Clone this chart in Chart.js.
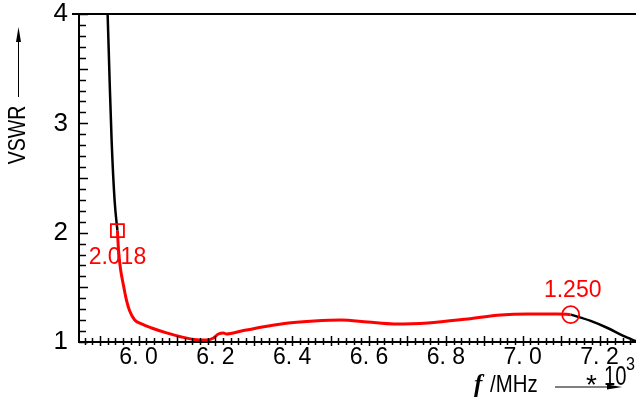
<!DOCTYPE html>
<html>
<head>
<meta charset="utf-8">
<script src="https://cdn.jsdelivr.net/npm/chart.js@4.4.1/dist/chart.umd.min.js"></script>
<style>
  html, body { margin: 0; padding: 0; background: #fff; }
</style>
</head>
<body>
<canvas id="vswrChart" width="636" height="403"></canvas>
<script>
// frequency in GHz (axis shows MHz * 10^3), VSWR
var freqLeft  = [5.9160, 5.9195, 5.9247, 5.9299, 5.9377, 5.9450];
var vswrLeft  = [4.30,   4.000,  3.394,  2.844,  2.294,  2.018];

var freqBand  = [5.945, 5.948, 5.953, 5.961, 5.969, 5.977, 5.990, 6.008, 6.034, 6.073, 6.112,
                 6.145, 6.177, 6.195, 6.208, 6.221, 6.229, 6.268, 6.338, 6.390, 6.457,
                 6.527, 6.597, 6.665, 6.753, 6.857, 6.943, 7.013, 7.091, 7.125];
var vswrBand  = [2.018, 1.835, 1.670, 1.514, 1.376, 1.284, 1.202, 1.165, 1.128, 1.083, 1.046,
                 1.023, 1.018, 1.037, 1.073, 1.083, 1.073, 1.101, 1.147, 1.174, 1.193,
                 1.202, 1.183, 1.165, 1.174, 1.211, 1.248, 1.257, 1.257, 1.250];

var freqRight = [7.125, 7.177, 7.221, 7.262, 7.300];
var vswrRight = [1.250, 1.193, 1.128, 1.055, 1.000];

var markerLow  = {x: 5.945, y: 2.018, text: "2.018"};
var markerHigh = {x: 7.125, y: 1.250, text: "1.250"};

var xTickValues = [6.0, 6.2, 6.4, 6.6, 6.8, 7.0, 7.2];
var xTickLabels = ["6. 0", "6. 2", "6. 4", "6. 6", "6. 8", "7. 0", "7. 2"];
var yTickValues = [1, 2, 3, 4];

function toPoints(xs, ys) {
  var pts = [];
  for (var i = 0; i < xs.length; i++) pts.push({x: xs[i], y: ys[i]});
  return pts;
}

var RED = "#ff0000";
var SANS = "'Liberation Sans', Arial, sans-serif";

// narrow text, the plot uses a condensed font
function narrowText(ctx, text, x, y, squeeze) {
  ctx.save();
  ctx.translate(x, y);
  ctx.scale(squeeze, 1);
  ctx.fillText(text, 0, 0);
  ctx.restore();
}

// inside ticks, top frame line, axis titles and marker values
var decorPlugin = {
  id: "decor",
  afterDraw: function(chart) {
    var ctx = chart.ctx;
    var xs = chart.scales.x, ys = chart.scales.y;
    var area = chart.chartArea;
    ctx.save();
    ctx.strokeStyle = "#000";
    ctx.lineWidth = 2;
    ctx.beginPath();
    ctx.moveTo(area.left - 7, area.top);
    ctx.lineTo(area.right, area.top);
    ctx.stroke();

    ctx.lineWidth = 1.5;
    // y minor ticks
    for (var i = 10; i <= 40; i++) {
      var py = Math.round(ys.getPixelForValue(i / 10)) + 0.5;
      var len = (i % 5 === 0) ? 9 : 7;
      ctx.beginPath();
      ctx.moveTo(area.left, py);
      ctx.lineTo(area.left + len, py);
      ctx.stroke();
    }
    // x minor ticks
    for (var k = 293; k <= 365; k++) {
      var v = k / 50;
      if (v < xs.min || v > xs.max) continue;
      var px = Math.round(xs.getPixelForValue(v)) + 0.5;
      var major = (k % 5 === 0);
      ctx.beginPath();
      ctx.moveTo(px, area.bottom - (major ? 6 : 4));
      ctx.lineTo(px, area.bottom + (major ? 4 : 3));
      ctx.stroke();
    }

    // marker values
    ctx.fillStyle = RED;
    ctx.font = "23px " + SANS;
    ctx.textAlign = "center";
    ctx.textBaseline = "middle";
    ctx.fillText(markerLow.text, xs.getPixelForValue(markerLow.x), ys.getPixelForValue(markerLow.y) + 27);
    ctx.fillText(markerHigh.text, xs.getPixelForValue(markerHigh.x) + 2, ys.getPixelForValue(markerHigh.y) - 24);

    // y title
    ctx.fillStyle = "#000";
    ctx.save();
    ctx.translate(19, 135);
    ctx.rotate(-Math.PI / 2);
    ctx.font = "23px " + SANS;
    ctx.textAlign = "center";
    ctx.textBaseline = "middle";
    narrowText(ctx, "VSWR", 0, 0, 0.85);
    ctx.restore();
    ctx.lineWidth = 1;
    ctx.beginPath();
    ctx.moveTo(18.5, 97);
    ctx.lineTo(18.5, 34);
    ctx.stroke();
    ctx.beginPath();
    ctx.moveTo(18.5, 27);
    ctx.lineTo(16, 42);
    ctx.lineTo(21, 42);
    ctx.closePath();
    ctx.fill();

    // x title
    ctx.textAlign = "left";
    ctx.textBaseline = "alphabetic";
    ctx.font = "italic bold 25px 'Liberation Serif', serif";
    ctx.fillText("f", 474, 392);
    ctx.font = "24px " + SANS;
    narrowText(ctx, "/MHz", 490, 392, 0.85);
    ctx.beginPath();
    ctx.moveTo(555, 387);
    ctx.lineTo(612, 387);
    ctx.stroke();
    ctx.beginPath();
    ctx.moveTo(622, 387);
    ctx.lineTo(607, 384.5);
    ctx.lineTo(607, 389.5);
    ctx.closePath();
    ctx.fill();
    ctx.font = "28px " + SANS;
    ctx.fillText("*", 586, 394);
    ctx.font = "27px " + SANS;
    narrowText(ctx, "10", 604, 385, 0.75);
    ctx.font = "19px " + SANS;
    narrowText(ctx, "3", 626, 370, 0.85);
    ctx.restore();
  }
};

function noOverhang(scale) {
  scale.paddingLeft = 0;
  scale.paddingRight = 0;
  scale.paddingTop = 0;
  scale.paddingBottom = 0;
}

var ctx = document.getElementById("vswrChart");
var vswrChart = new Chart(ctx, {
  type: "line",
  data: {
    datasets: [
      {
        data: toPoints(freqLeft, vswrLeft),
        borderColor: "#000", borderWidth: 2.5, pointRadius: 0,
        cubicInterpolationMode: "monotone", order: 3
      },
      {
        data: toPoints(freqBand, vswrBand),
        borderColor: RED, borderWidth: 3, pointRadius: 0,
        cubicInterpolationMode: "monotone", order: 2
      },
      {
        data: toPoints(freqRight, vswrRight),
        borderColor: "#000", borderWidth: 2.5, pointRadius: 0,
        cubicInterpolationMode: "monotone", order: 3
      },
      {
        data: [{x: markerLow.x, y: markerLow.y}],
        showLine: false, pointStyle: "rect", pointRadius: 9.2,
        pointBorderColor: RED, pointBackgroundColor: "rgba(0,0,0,0)", pointBorderWidth: 1.8, order: 1
      },
      {
        data: [{x: markerHigh.x, y: markerHigh.y}],
        showLine: false, pointStyle: "circle", pointRadius: 8.5,
        pointBorderColor: RED, pointBackgroundColor: "rgba(0,0,0,0)", pointBorderWidth: 1.8, order: 1
      }
    ]
  },
  options: {
    responsive: false,
    animation: false,
    layout: { autoPadding: false, padding: { top: 14, right: 0, left: 0, bottom: 0 } },
    plugins: { legend: { display: false }, tooltip: { enabled: false } },
    elements: { point: { hoverRadius: 0 } },
    scales: {
      x: {
        type: "linear",
        min: 5.845, max: 7.295,
        grid: { display: false, drawTicks: false },
        border: { display: true, color: "#000", width: 2 },
        afterBuildTicks: function(scale) {
          scale.ticks = xTickValues.map(function(v) { return {value: v}; });
        },
        afterFit: function(scale) { scale.height = 61; noOverhang(scale); },
        ticks: {
          autoSkip: false, maxRotation: 0, padding: 2,
          color: "#000", font: { family: SANS, size: 23 },
          callback: function(value) {
            var idx = xTickValues.indexOf(Math.round(value * 10) / 10);
            return idx >= 0 ? xTickLabels[idx] : "";
          }
        }
      },
      y: {
        min: 1, max: 4,
        grid: { display: false, drawTicks: false },
        border: { display: true, color: "#000", width: 2 },
        afterBuildTicks: function(scale) {
          scale.ticks = yTickValues.map(function(v) { return {value: v}; });
        },
        afterFit: function(scale) { scale.width = 79; noOverhang(scale); },
        ticks: {
          padding: 11, color: "#000",
          font: { family: SANS, size: 26 }
        }
      }
    }
  },
  plugins: [decorPlugin]
});
</script>
</body>
</html>
